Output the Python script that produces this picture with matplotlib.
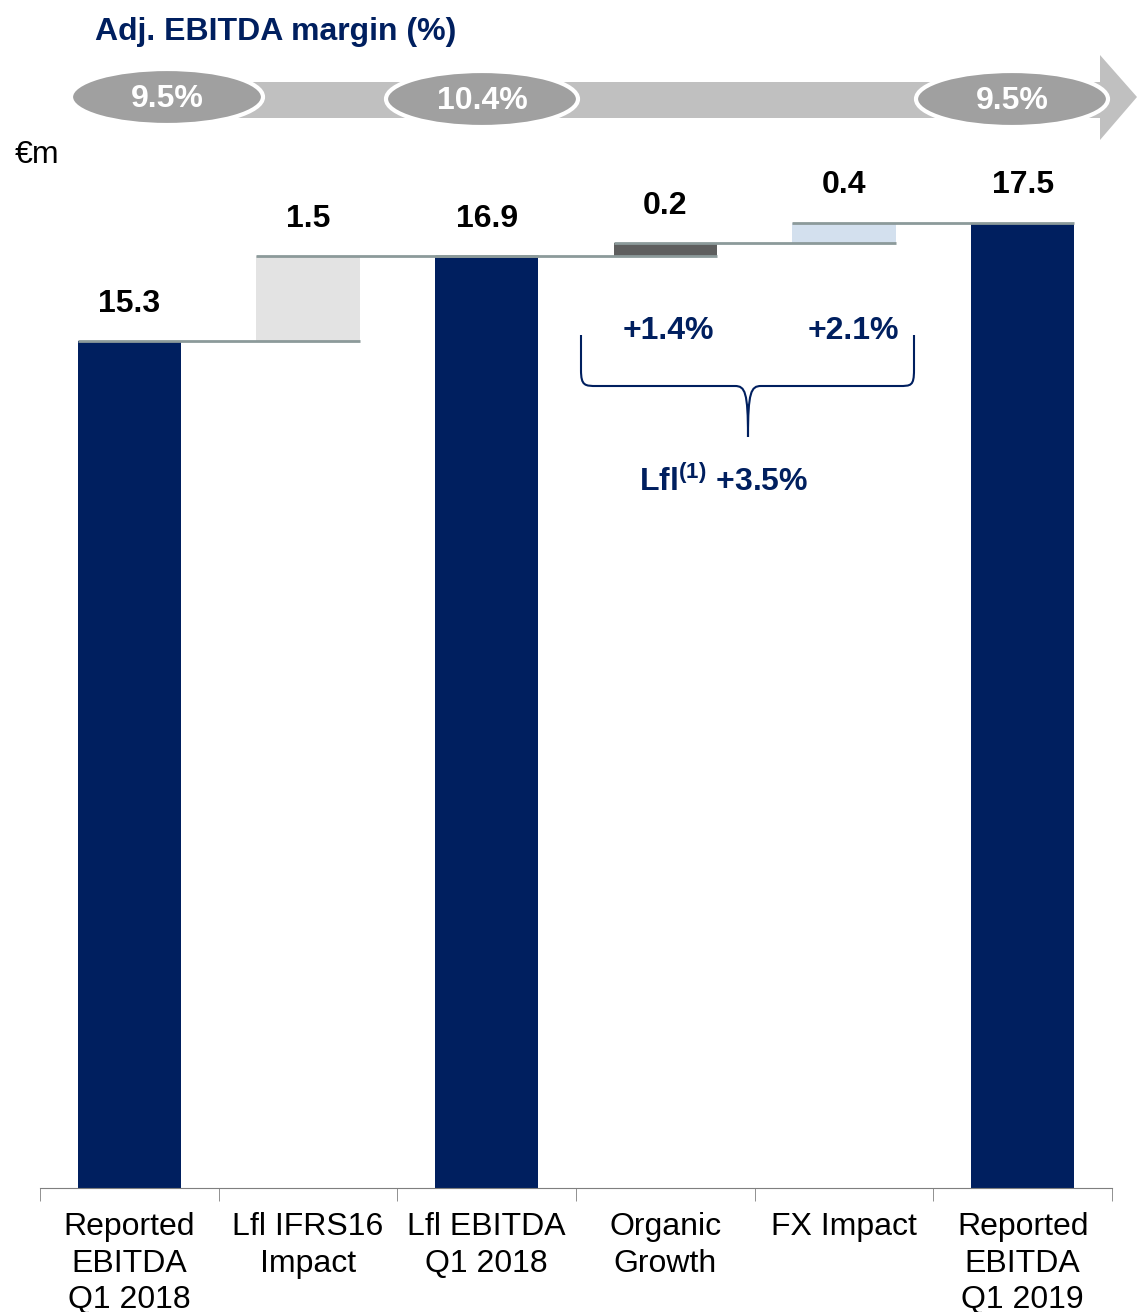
import numpy as np
import matplotlib.pyplot as plt
from matplotlib.patches import Ellipse, Polygon, PathPatch
from matplotlib.path import Path

plt.rcParams['font.family'] = ['Liberation Sans', 'DejaVu Sans']
plt.rcParams['mathtext.fontset'] = 'custom'
plt.rcParams['mathtext.bf'] = 'Liberation Sans:bold'
plt.rcParams['mathtext.rm'] = 'Liberation Sans'

# data
categories = ['Reported\nEBITDA\nQ1 2018', 'Lfl IFRS16\nImpact', 'Lfl EBITDA\nQ1 2018',
              'Organic\nGrowth', 'FX Impact', 'Reported\nEBITDA\nQ1 2019']
values = [15.34, 1.54, 16.88, 0.24, 0.37, 17.49]
is_total = [True, False, True, False, False, True]
margins = ['9.5%', '10.4%', '9.5%']
growth = ['+1.4%', '+2.1%']
lfl_total = '+3.5%'

NAVY = '#001F5F'
colors = {1: '#E3E3E3', 3: '#5E5E5E', 4: '#D3E0EE'}
LINE = '#8C9A9A'
FS = 23

W, H = 1137, 1312
fig = plt.figure(figsize=(W / 100, H / 100), dpi=100)

# main waterfall axes
ax = fig.add_axes([40 / W, (H - 1188) / H, 1072 / W, 1104 / H])
ax.set_xlim(-0.5, 5.5)
ax.set_ylim(0, 20)

bw = 0.58
x = np.arange(len(categories))
level = 0
tops = []
for i, (v, tot) in enumerate(zip(values, is_total)):
    if tot:
        bottom, level = 0, v
        col = NAVY
    else:
        bottom = level
        level = level + v
        col = colors[i]
    ax.bar(i, v, bottom=bottom, width=bw, color=col, zorder=2)
    tops.append(level)
    ax.annotate(f'{v:.1f}', (i, level), xytext=(0, 16), textcoords='offset points',
                ha='center', va='bottom', fontsize=FS, fontweight='bold', color='black')

# connectors
for i in range(len(values) - 1):
    ax.plot([i - bw / 2, i + 1 + bw / 2], [tops[i], tops[i]], color=LINE, lw=2.0,
            zorder=3, solid_capstyle='butt')

for s in ['top', 'left', 'right']:
    ax.spines[s].set_visible(False)
ax.spines['bottom'].set_color('#7F7F7F')
ax.set_yticks([])
ax.set_xticks(x)
ax.set_xticklabels(categories, fontsize=FS, linespacing=1.3)
ax.tick_params(axis='x', which='major', length=0, pad=17)
ax.set_xticks(np.arange(-0.5, 6, 1), minor=True)
ax.tick_params(axis='x', which='minor', length=9, color='#7F7F7F', direction='out')

# overlay in pixel coords
ov = fig.add_axes([0, 0, 1, 1], zorder=5)
ov.set_xlim(0, W)
ov.set_ylim(H, 0)
ov.axis('off')
ov.patch.set_alpha(0)

ov.text(95, 32, 'Adj. EBITDA margin (%)', fontsize=FS, fontweight='bold', color=NAVY,
        ha='left', va='center')
ov.text(15, 155, '€m', fontsize=FS, ha='left', va='center')

arrow = Polygon([(170, 82), (1100, 82), (1100, 55), (1137, 97), (1100, 140),
                 (1100, 118), (170, 118)], closed=True, fc='#C0C0C0', ec='none')
ov.add_patch(arrow)
for cx, cy, lab in zip([167, 482, 1012], [97, 99, 99], margins):
    ov.add_patch(Ellipse((cx, cy), 192, 56, fc='#A0A0A0', ec='white', lw=3))
    ov.text(cx, cy + 2, lab, fontsize=FS, fontweight='bold', color='white',
            ha='center', va='center')

verts = [(581, 335), (581, 370), (581, 386), (585, 386), (597, 386), (735, 386),
         (745, 386), (748, 392), (748, 437), (748, 392), (751, 386), (761, 386),
         (899, 386), (911, 386), (914, 386), (914, 370), (914, 335)]
codes = [Path.MOVETO, Path.LINETO, Path.CURVE4, Path.CURVE4, Path.CURVE4, Path.LINETO,
         Path.CURVE4, Path.CURVE4, Path.CURVE4, Path.CURVE4, Path.CURVE4, Path.CURVE4,
         Path.LINETO, Path.CURVE4, Path.CURVE4, Path.CURVE4, Path.LINETO]
ov.add_patch(PathPatch(Path(verts, codes), fc='none', ec=NAVY, lw=1.5))

for gx, g in zip([668, 853], growth):
    ov.text(gx, 331, g, fontsize=FS, fontweight='bold', color=NAVY, ha='center', va='center')
ov.text(724, 482, r'Lfl$^{\mathbf{(1)}}$ ' + lfl_total, fontsize=FS, fontweight='bold',
        color=NAVY, ha='center', va='center')

fig.savefig('out.png', dpi=100)
